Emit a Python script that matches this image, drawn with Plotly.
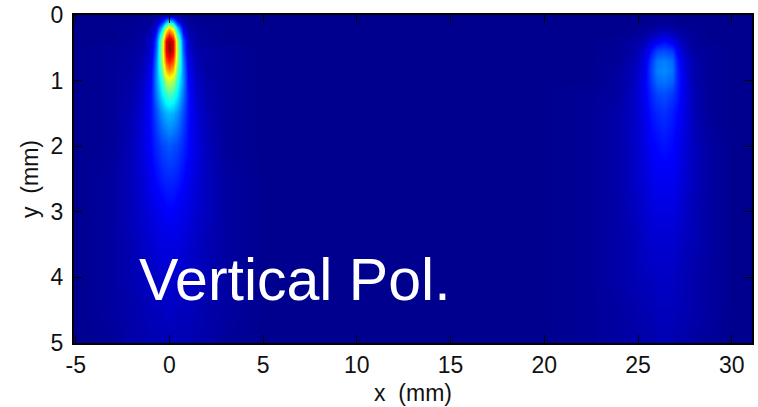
import plotly.graph_objects as go

x_mm = [-5.09,-3,-2,-1.4,-1,-.7,-.4,-.2,0,.2,.4,.7,1,1.4,2,3,5,10,15,20,22.5,24,24.8,25.3,25.7,26,26.4,26.8,27.1,27.5,28,28.8,30,31.08]
y_mm = [0,.1,.2,.3,.4,.55,.7,.85,1,1.2,1.5,2,2.5,3,3.5,4,4.5,5]
intensity = [
[.00,.00,.00,.00,.00,.01,.02,.03,.04,.03,.02,.01,.00,.00,.00,.00,.00,.00,.00,.00,.00,.00,.00,.00,.00,.00,.00,.00,.00,.00,.00,.00,.00,.00],
[.00,.00,.00,.01,.01,.04,.15,.30,.38,.30,.15,.04,.01,.01,.00,.00,.00,.00,.00,.00,.00,.00,.00,.00,.00,.01,.01,.01,.00,.00,.00,.00,.00,.00],
[.00,.00,.01,.01,.03,.10,.33,.58,.68,.58,.33,.10,.03,.01,.01,.00,.00,.00,.00,.00,.00,.00,.00,.01,.01,.02,.03,.02,.01,.01,.00,.00,.00,.00],
[.00,.00,.01,.02,.05,.16,.47,.76,.85,.76,.47,.16,.05,.02,.01,.00,.00,.00,.00,.00,.00,.00,.01,.02,.04,.06,.08,.06,.04,.02,.01,.00,.00,.00],
[.00,.00,.01,.02,.07,.20,.55,.90,.98,.90,.55,.20,.07,.02,.01,.00,.00,.00,.00,.00,.00,.01,.02,.04,.08,.11,.13,.11,.07,.03,.01,.00,.00,.00],
[.00,.01,.02,.03,.08,.22,.56,.90,.98,.90,.56,.22,.08,.03,.02,.01,.00,.00,.00,.00,.00,.01,.03,.07,.14,.19,.20,.18,.12,.05,.02,.01,.00,.00],
[.00,.01,.02,.04,.10,.25,.54,.80,.86,.80,.54,.25,.10,.04,.02,.01,.00,.00,.00,.00,.00,.01,.04,.09,.18,.24,.25,.23,.15,.07,.03,.01,.00,.00],
[.00,.01,.02,.05,.12,.26,.48,.68,.73,.68,.48,.26,.12,.05,.02,.01,.00,.00,.00,.00,.00,.02,.05,.10,.19,.25,.26,.24,.16,.08,.03,.01,.00,.00],
[.00,.01,.03,.06,.13,.26,.42,.55,.58,.55,.42,.26,.13,.06,.03,.01,.00,.00,.00,.00,.00,.02,.05,.11,.18,.23,.24,.22,.16,.09,.03,.01,.00,.00],
[.00,.01,.03,.07,.14,.24,.36,.43,.45,.43,.36,.24,.14,.07,.03,.01,.00,.00,.00,.00,.01,.02,.06,.11,.16,.19,.20,.18,.15,.09,.04,.01,.00,.00],
[.00,.01,.04,.08,.14,.20,.27,.30,.31,.30,.27,.20,.14,.08,.04,.01,.00,.00,.00,.00,.01,.03,.06,.10,.14,.16,.17,.15,.13,.09,.04,.01,.00,.00],
[.00,.01,.05,.09,.13,.16,.19,.20,.21,.20,.19,.16,.13,.09,.05,.01,.00,.00,.00,.00,.01,.03,.06,.09,.12,.13,.14,.13,.11,.08,.05,.02,.00,.00],
[.00,.02,.05,.08,.11,.13,.15,.16,.16,.16,.15,.13,.11,.08,.05,.02,.00,.00,.00,.00,.01,.03,.06,.08,.10,.11,.11,.11,.10,.07,.05,.02,.00,.00],
[.00,.02,.05,.07,.09,.10,.11,.12,.12,.12,.11,.10,.09,.07,.05,.02,.00,.00,.00,.00,.01,.03,.05,.07,.08,.09,.09,.09,.08,.06,.04,.02,.00,.00],
[.00,.02,.04,.06,.07,.08,.09,.09,.09,.09,.09,.08,.07,.06,.04,.02,.00,.00,.00,.00,.01,.03,.04,.06,.07,.07,.07,.07,.06,.05,.04,.02,.00,.00],
[.00,.02,.04,.05,.06,.06,.07,.07,.07,.07,.07,.06,.06,.05,.04,.02,.00,.00,.00,.00,.01,.03,.04,.05,.05,.06,.06,.06,.05,.04,.03,.02,.00,.00],
[.00,.02,.03,.04,.05,.05,.05,.06,.06,.06,.05,.05,.05,.04,.03,.02,.00,.00,.00,.00,.01,.02,.03,.04,.04,.05,.05,.05,.04,.04,.03,.02,.00,.00],
[.00,.01,.03,.03,.04,.04,.04,.04,.04,.04,.04,.04,.04,.03,.03,.01,.00,.00,.00,.00,.01,.02,.03,.03,.03,.04,.04,.04,.03,.03,.02,.01,.00,.00],
]
x_ticks = [-5,0,5,10,15,20,25,30]
x_tick_labels = ["-5","0","5","10","15","20","25","30"]
y_ticks = [0,1,2,3,4,5]
jet = [[0,"rgb(0,0,143)"],[.125,"rgb(0,0,255)"],[.375,"rgb(0,255,255)"],[.625,"rgb(255,255,0)"],[.875,"rgb(255,0,0)"],[1,"rgb(128,0,0)"]]
font = "Liberation Sans, Arial, sans-serif"

fig = go.Figure(go.Heatmap(x=x_mm, y=y_mm, z=intensity, zmin=0, zmax=1, colorscale=jet,
                           zsmooth="best", showscale=False))
axis = dict(showline=True, linecolor="black", linewidth=2, mirror="ticks", ticks="inside",
            ticklen=8, tickwidth=1, tickcolor="black", showgrid=False, zeroline=False,
            automargin=False, tickfont=dict(family=font, size=23, color="#111"))
fig.update_xaxes(range=[-5.09,31.08], tickvals=x_ticks, ticktext=x_tick_labels, ticklabelstandoff=0, **axis)
fig.update_yaxes(range=[5,0], tickvals=y_ticks, ticklabelstandoff=4, **axis)
fig.update_xaxes(title=dict(text="x  (mm)", font=dict(family=font, size=23, color="#111"), standoff=8))
fig.update_yaxes(title=dict(text="y  (mm)", font=dict(family=font, size=23, color="#111"), standoff=6))
fig.add_annotation(x=-1.75, y=4.57, xref="x", yref="y", xanchor="left", yanchor="bottom", showarrow=False,
                   text="Vertical Pol.", font=dict(family=font, size=59, color="white"))
fig.update_layout(width=758, height=407, margin=dict(l=74, r=6, t=15, b=64),
                  paper_bgcolor="white", plot_bgcolor="rgb(0,0,143)")
fig.write_html("out.html", config={"displayModeBar": False},
               post_script="document.body.style.margin='0';document.documentElement.style.overflow='hidden';")
